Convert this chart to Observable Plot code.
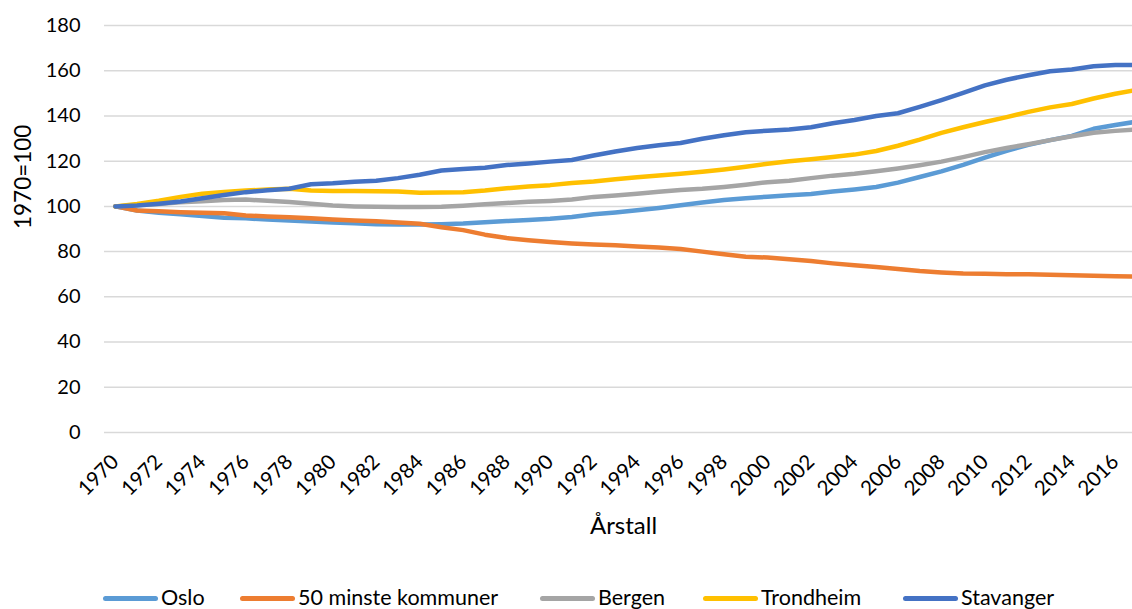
<!DOCTYPE html>
<html><head><meta charset="utf-8">
<script src="https://cdn.jsdelivr.net/npm/d3@7"></script>
<script src="https://cdn.jsdelivr.net/npm/@observablehq/plot@0.6"></script>
<style>
body{margin:0;background:#fff;font-family:Lato,sans-serif;overflow:hidden;width:1132px;height:609px;position:relative;}
#legend{position:absolute;left:0;top:580px;width:1132px;height:36px;}
.item{position:absolute;top:0;height:36px;display:flex;align-items:center;font-size:21.5px;line-height:1;color:#000;white-space:nowrap;}
.sw{display:inline-block;width:55px;height:5px;border-radius:3px;margin-right:3px;}
</style></head><body>
<div id="chart"></div>
<div id="legend"></div>
<script>
const years = [1970,1971,1972,1973,1974,1975,1976,1977,1978,1979,1980,1981,1982,1983,1984,1985,1986,1987,1988,1989,1990,1991,1992,1993,1994,1995,1996,1997,1998,1999,2000,2001,2002,2003,2004,2005,2006,2007,2008,2009,2010,2011,2012,2013,2014,2015,2016,2017];
const seriesNames = ["Oslo","50 minste kommuner","Bergen","Trondheim","Stavanger"];
const seriesColors = ["#5b9bd5","#ed7d31","#a5a5a5","#ffc000","#4472c4"];
const oslo = [100,98.2,97.2,96.5,95.8,95.0,94.7,94.2,93.8,93.3,92.9,92.5,92.1,92.0,92.0,92.1,92.4,93.0,93.5,94.0,94.5,95.3,96.5,97.3,98.3,99.3,100.5,101.7,102.8,103.6,104.3,104.9,105.5,106.6,107.5,108.6,110.5,113.0,115.5,118.4,121.6,124.6,127.2,129.3,131.2,134.3,136.0,137.5];
const minste50 = [100,98.2,97.8,97.4,97.2,97.0,96.0,95.5,95.2,94.8,94.2,93.8,93.4,92.9,92.3,90.8,89.5,87.5,86.0,85.0,84.2,83.6,83.1,82.8,82.3,81.8,81.2,80.0,78.8,77.7,77.4,76.6,75.8,74.8,74.0,73.2,72.3,71.4,70.8,70.3,70.2,70.0,70.0,69.8,69.6,69.3,69.1,69.0];
const bergen = [100,100.6,101.1,101.8,102.3,102.8,103.0,102.5,101.9,101.2,100.4,100.0,99.8,99.7,99.7,99.8,100.3,100.9,101.5,102.0,102.4,103.0,104.2,104.8,105.6,106.5,107.3,107.8,108.6,109.6,110.7,111.3,112.5,113.6,114.4,115.5,116.8,118.2,119.8,121.8,124.0,125.8,127.5,129.3,131.0,132.6,133.4,134.0];
const trondheim = [100,101.1,102.5,104.2,105.6,106.4,107.0,107.5,107.8,107.0,106.8,106.8,106.7,106.6,106.0,106.1,106.3,107.0,108.0,108.8,109.4,110.3,111.0,112.0,112.9,113.7,114.4,115.3,116.3,117.5,118.9,120.0,120.8,121.8,122.9,124.5,126.8,129.5,132.5,135.0,137.3,139.5,141.8,143.8,145.3,147.7,149.8,151.5];
const stavanger = [100,100.4,101.2,102.2,103.6,105.0,106.3,107.1,107.8,109.8,110.2,110.9,111.3,112.5,114.0,115.9,116.5,117.1,118.3,119.0,119.8,120.5,122.5,124.3,125.8,127.0,128.0,129.9,131.5,132.8,133.5,134.0,135.0,136.8,138.2,140.0,141.2,144.0,147.0,150.2,153.5,156.0,158.0,159.8,160.5,162.0,162.5,162.5];
const yTicks = [0,20,40,60,80,100,120,140,160,180];
const xTicks = [1970,1972,1974,1976,1978,1980,1982,1984,1986,1988,1990,1992,1994,1996,1998,2000,2002,2004,2006,2008,2010,2012,2014,2016];
const yLabel = "1970=100";
const xLabel = "Årstall";

const seriesValues = [oslo, minste50, bergen, trondheim, stavanger];
const data = seriesNames.flatMap((name, i) => years.map((year, j) => ({series: name, year, value: seriesValues[i][j]})));

const chart = Plot.plot({
  width: 1132, height: 580,
  marginLeft: 104, marginRight: 0, marginTop: 25, marginBottom: 148,
  x: {type: "linear", domain: [1969.5, 2016.79]},
  y: {domain: [0, 180]},
  color: {domain: seriesNames, range: seriesColors},
  style: {fontFamily: "Lato, sans-serif", fontSize: "20px", color: "#000", background: "#fff"},
  marks: [
    Plot.ruleY(yTicks, {stroke: "#d9d9d9", strokeWidth: 1.5}),
    Plot.axisY({ticks: yTicks, tickSize: 0, tickPadding: 24, label: null, fontSize: 20}),
    Plot.axisX({ticks: xTicks, tickFormat: d => String(d), tickRotate: -45, tickSize: 0, tickPadding: 26, label: null, fontSize: 20.5}),
    Plot.lineY(data, {x: "year", y: "value", z: "series", stroke: "series", strokeWidth: 4.5, strokeLinejoin: "round", strokeLinecap: "round", clip: true}),
    Plot.text([yLabel], {text: d => d, frameAnchor: "left", dx: -81, rotate: -90, fontSize: 22.5}),
    Plot.text([xLabel], {text: d => d, frameAnchor: "bottom", dx: 5, dy: 101, fontSize: 24})
  ]
});
document.getElementById("chart").appendChild(chart);

const lefts = [103, 240, 540, 703, 903];
const legend = document.getElementById("legend");
seriesNames.forEach((name, i) => {
  const item = document.createElement("div");
  item.className = "item";
  item.style.left = lefts[i] + "px";
  const sw = document.createElement("span");
  sw.className = "sw";
  sw.style.background = seriesColors[i];
  item.appendChild(sw);
  item.appendChild(document.createTextNode(name));
  legend.appendChild(item);
});
</script>
</body></html>
